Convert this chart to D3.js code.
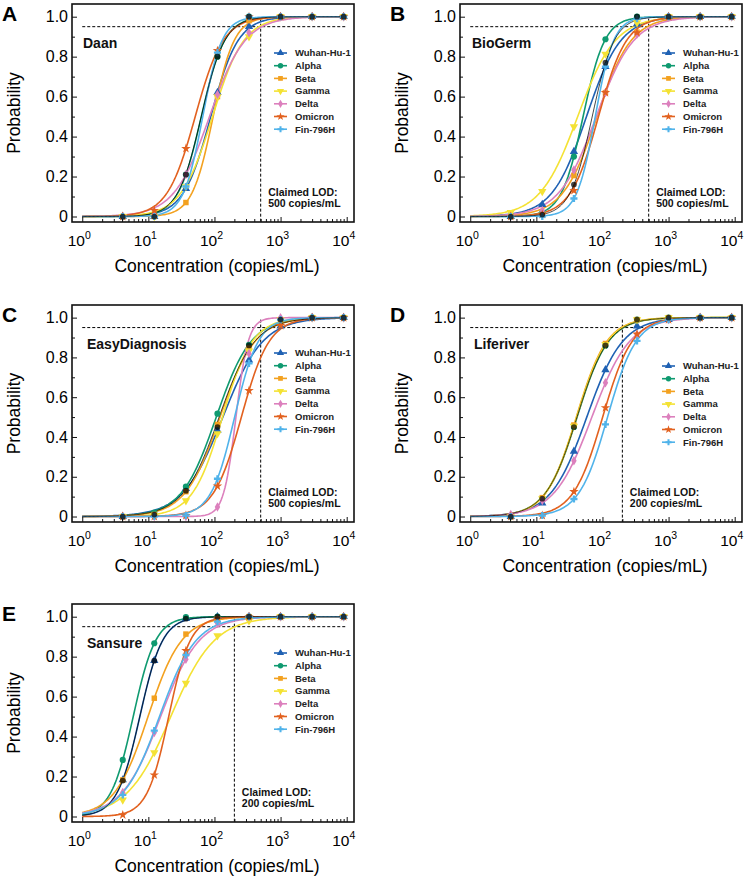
<!DOCTYPE html>
<html><head><meta charset="utf-8">
<script src="https://cdn.jsdelivr.net/npm/d3@7"></script>
<style>body{margin:0;background:#fff} svg{display:block}</style>
</head><body><svg id="c" width="750" height="877"></svg>
<script>
// ---------------- DATA ----------------
const concentrations = [4.1, 12.3, 37, 111, 333, 1000, 3000, 9000];
const variants = ["Wuhan-Hu-1", "Alpha", "Beta", "Gamma", "Delta", "Omicron", "Fin-796H", "Pooled"];
const panelLetters = ["A", "B", "C", "D", "E"];
const panelNames = ["Daan", "BioGerm", "EasyDiagnosis", "Liferiver", "Sansure"];
const claimedLOD = [500, 500, 500, 200, 200];
const xTickExponents = [0, 1, 2, 3, 4];
const yTickValues = [0, 0.2, 0.4, 0.6, 0.8, 1.0];

// observed hit rates per variant (rows follow `variants`)
const daanValues = [
  [0, 0, 0.14, 0.62, 0.95, 1, 1, 1],
  [0, 0.01, 0.21, 0.80, 1, 1, 1, 1],
  [0, 0, 0.07, 0.60, 0.98, 1, 1, 1],
  [0, 0, 0.15, 0.60, 0.90, 1, 1, 1],
  [0, 0.01, 0.21, 0.61, 0.92, 1, 1, 1],
  [0, 0.03, 0.34, 0.83, 1, 1, 1, 1],
  [0, 0, 0.15, 0.82, 1, 1, 1, 1],
  [0, 0, 0.21, 0.80, 1, 1, 1, 1]
];
const bioGermValues = [
  [0, 0.06, 0.325, 0.75, 0.963, 1, 1, 1],
  [0, 0.02, 0.30, 0.887, 1, 1, 1, 1],
  [0, 0.01, 0.205, 0.62, 0.923, 1, 1, 1],
  [0.02, 0.125, 0.45, 0.813, 0.97, 1, 1, 1],
  [0, 0.03, 0.233, 0.62, 0.913, 1, 1, 1],
  [0, 0.01, 0.13, 0.62, 0.92, 1, 1, 1],
  [0, 0, 0.09, 0.75, 0.99, 1, 1, 1],
  [0, 0.01, 0.16, 0.77, 1, 1, 1, 1]
];
const easyDiagnosisValues = [
  [0, 0.01, 0.14, 0.433, 0.787, 0.958, 1, 1],
  [0, 0.02, 0.15, 0.517, 0.863, 0.99, 1, 1],
  [0, 0.01, 0.125, 0.463, 0.847, 0.99, 1, 1],
  [0, 0.005, 0.08, 0.417, 0.833, 0.99, 1, 1],
  [0, 0, 0, 0.048, 0.82, 1, 1, 1],
  [0, 0, 0.005, 0.153, 0.633, 0.96, 1, 1],
  [0, 0, 0.005, 0.19, 0.77, 0.99, 1, 1],
  [0, 0.01, 0.13, 0.45, 0.86, 0.99, 1, 1]
];
const liferiverValues = [
  [0, 0.067, 0.328, 0.738, 0.958, 0.99, 1, 1],
  [0, 0.092, 0.45, 0.858, 0.99, 1, 1, 1],
  [0, 0.095, 0.46, 0.87, 0.99, 1, 1, 1],
  [0, 0.09, 0.455, 0.865, 0.99, 1, 1, 1],
  [0.01, 0.08, 0.28, 0.672, 0.915, 0.99, 1, 1],
  [0, 0.005, 0.125, 0.547, 0.917, 0.99, 1, 1],
  [0, 0.005, 0.088, 0.463, 0.883, 0.99, 1, 1],
  [0, 0.09, 0.45, 0.86, 0.99, 1, 1, 1]
];
const sansureValues = [
  [0.183, 0.78, 0.99, 1, 1, 1, 1, 1],
  [0.283, 0.867, 0.998, 1, 1, 1, 1, 1],
  [0.183, 0.592, 0.913, 0.99, 1, 1, 1, 1],
  [0.083, 0.32, 0.667, 0.905, 0.98, 1, 1, 1],
  [0.12, 0.42, 0.787, 0.967, 1, 1, 1, 1],
  [0.008, 0.208, 0.83, 0.99, 1, 1, 1, 1],
  [0.108, 0.43, 0.808, 0.975, 1, 1, 1, 1],
  [0.18, 0.78, 0.99, 1, 1, 1, 1, 1]
];

// fitted dose-response curves: [log10 EC50, slope] per variant
const daanFit = [[1.944, 4.83], [1.801, 5.68], [1.980, 6.27], [1.97, 4.2], [1.925, 3.71], [1.709, 4.71], [1.823, 6.82], [1.80, 5.6]];
const bioGermFit = [[1.758, 3.84], [1.707, 6.09], [1.918, 3.87], [1.625, 3.5], [1.906, 3.52], [1.94, 4.7], [1.891, 7.15], [1.845, 6.0]];
const easyDiagnosisFit = [[2.127, 3.30], [2.027, 3.78], [2.084, 3.77], [2.121, 4.41], [2.325, 10.7], [2.407, 4.73], [2.305, 5.57], [2.07, 3.7]];
const liferiverFit = [[1.763, 3.675], [1.616, 4.19], [1.605, 4.32], [1.61, 4.25], [1.84, 3.49], [2.003, 4.47], [2.077, 4.6], [1.615, 4.2]];
const sansureFit = [[0.871, 5.79], [0.771, 5.87], [0.995, 3.92], [1.339, 3.03], [1.185, 3.41], [1.308, 6.12], [1.168, 3.6], [0.871, 5.79]];

const panelValues = [daanValues, bioGermValues, easyDiagnosisValues, liferiverValues, sansureValues];
const panelFits = [daanFit, bioGermFit, easyDiagnosisFit, liferiverFit, sansureFit];

// ---------------- STYLE ----------------
const colors = ["#1f61b3", "#0f9a70", "#f3a11f", "#f4e234", "#dc80bd", "#e2611f", "#50b3ea", "#000000"];
const symbols = [d3.symbolTriangle, d3.symbolCircle, d3.symbolSquare, d3.symbolTriangle, d3.symbolDiamond, d3.symbolStar, d3.symbolCross, d3.symbolCircle];
const symRotate = [0, 0, 0, 180, 0, 0, 0, 0];
const symSize = [30, 30, 30, 30, 26, 28, 28, 26];
const FONT = "Arial, 'Liberation Sans', Helvetica, sans-serif";

const frames = [
  {l: 72, t: 4, r: 354, b: 222, nameDx: 11, legDy: 49},
  {l: 460, t: 4, r: 742, b: 222, nameDx: 12, legDy: 49},
  {l: 72, t: 305, r: 354, b: 522, nameDx: 15, legDy: 48},
  {l: 460, t: 305, r: 742, b: 522, nameDx: 14, legDy: 61},
  {l: 72, t: 604, r: 354, b: 822, nameDx: 15, legDy: 49}
];

const svg = d3.select("#c");

panelNames.forEach((name, pi) => {
  const f = frames[pi];
  const x = d3.scaleLog().domain([0.70, 12900]).range([f.l, f.r]);
  const y = d3.scaleLinear().domain([-0.0275, 1.0635]).range([f.b, f.t]);
  const g = svg.append("g");
  const values = panelValues[pi];
  const fits = panelFits[pi];

  // reference lines
  g.append("line").attr("x1", x(1)).attr("x2", x(10000)).attr("y1", y(0.95)).attr("y2", y(0.95))
    .attr("stroke", "#000").attr("stroke-width", 1).attr("stroke-dasharray", "3,2");
  g.append("line").attr("x1", x(claimedLOD[pi])).attr("x2", x(claimedLOD[pi])).attr("y1", y(0.99)).attr("y2", f.b)
    .attr("stroke", "#000").attr("stroke-width", 1).attr("stroke-dasharray", "3,2");

  // fitted curves
  const sampleLogs = d3.range(0, 4.0001, 0.02);
  const line = d3.line().x(d => x(Math.pow(10, d[0]))).y(d => y(d[1])).curve(d3.curveLinear);
  fits.forEach((fit, si) => {
    const pts = sampleLogs.map(L => [L, 1 / (1 + Math.exp(-fit[1] * (L - fit[0])))]);
    g.append("path").attr("d", line(pts)).attr("fill", "none")
      .attr("stroke", colors[si]).attr("stroke-width", si === 7 ? 1.0 : 1.6)
      .attr("stroke-opacity", si === 7 ? 0.72 : 1);
  });

  // markers
  values.forEach((vals, si) => {
    const sym = d3.symbol().type(symbols[si]).size(symSize[si]);
    g.selectAll(null).data(vals.map((v, k) => [concentrations[k], v])).join("path")
      .attr("d", sym)
      .attr("transform", d => `translate(${x(d[0])},${y(d[1])}) rotate(${symRotate[si]})`)
      .attr("fill", colors[si])
      .attr("fill-opacity", si === 7 ? 0.72 : 1);
  });

  // frame
  g.append("rect").attr("x", f.l).attr("y", f.t).attr("width", f.r - f.l).attr("height", f.b - f.t)
    .attr("fill", "none").attr("stroke", "#111").attr("stroke-width", 1.6);

  // x axis ticks (inward)
  const xMajor = xTickExponents.map(e => Math.pow(10, e));
  const xMinor = [];
  for (let e = 0; e < 4; e++) for (let m = 2; m <= 9; m++) xMinor.push(m * Math.pow(10, e));
  const axX = g.append("g").attr("transform", `translate(0,${f.b})`)
    .call(d3.axisBottom(x).tickValues(xMajor).tickSize(-5).tickFormat(""));
  axX.append("g").call(d3.axisBottom(x).tickValues(xMinor).tickSize(-3).tickFormat(""));
  axX.selectAll(".domain").remove();
  axX.selectAll("line").attr("stroke", "#111").attr("stroke-width", 1);

  xTickExponents.forEach(e => {
    const t = g.append("text").attr("x", x(Math.pow(10, e)) - 3).attr("y", f.b + 24)
      .attr("text-anchor", "middle").attr("font-family", FONT).attr("font-size", 15.5).attr("fill", "#000");
    t.append("tspan").text("10");
    t.append("tspan").text(e).attr("font-size", 10.5).attr("dy", -7);
  });

  // y axis ticks (inward)
  const axY = g.append("g").attr("transform", `translate(${f.l},0)`)
    .call(d3.axisLeft(y).tickValues(yTickValues).tickSize(-5).tickFormat(""));
  axY.append("g").call(d3.axisLeft(y).tickValues([0.1, 0.3, 0.5, 0.7, 0.9]).tickSize(-3).tickFormat(""));
  axY.selectAll(".domain").remove();
  axY.selectAll("line").attr("stroke", "#111").attr("stroke-width", 1);
  yTickValues.forEach(v => {
    g.append("text").attr("x", f.l - 4).attr("y", y(v)).attr("dy", "0.35em")
      .attr("text-anchor", "end").attr("font-family", FONT).attr("font-size", 16).attr("fill", "#000")
      .text(v === 0 ? "0" : d3.format(".1f")(v));
  });

  // axis titles
  g.append("text").attr("x", (f.l + f.r) / 2 + 4).attr("y", f.b + 50)
    .attr("text-anchor", "middle").attr("font-family", FONT).attr("font-size", 17.5).attr("fill", "#000")
    .text("Concentration (copies/mL)");
  g.append("text").attr("transform", `translate(${f.l - 52},${(f.t + f.b) / 2}) rotate(-90)`)
    .attr("text-anchor", "middle").attr("font-family", FONT).attr("font-size", 17.5).attr("fill", "#000")
    .text("Probability");

  // panel letter
  g.append("text").attr("x", f.l - 70).attr("y", f.t + 17).attr("font-family", FONT)
    .attr("font-weight", "bold").attr("font-size", 21).attr("fill", "#000").text(panelLetters[pi]);

  // panel name
  g.append("text").attr("x", f.l + f.nameDx).attr("y", f.t + 44).attr("font-family", FONT)
    .attr("font-weight", "bold").attr("font-size", 14).attr("fill", "#111").text(name);

  // claimed LOD text
  const lt = g.append("text").attr("x", x(claimedLOD[pi]) + 7.5).attr("y", f.b - 26.5)
    .attr("font-family", FONT).attr("font-weight", "bold").attr("font-size", 10.5).attr("fill", "#111");
  lt.append("tspan").text("Claimed LOD:");
  lt.append("tspan").attr("x", x(claimedLOD[pi]) + 7.5).attr("dy", 11.5).text(`${claimedLOD[pi]} copies/mL`);

  // legend
  const lx = f.r - 80, ly = f.t + f.legDy;
  variants.slice(0, 7).forEach((v, si) => {
    const yy = ly + si * 12.7;
    g.append("line").attr("x1", lx).attr("x2", lx + 13).attr("y1", yy).attr("y2", yy)
      .attr("stroke", colors[si]).attr("stroke-width", 1.6);
    g.append("path").attr("d", d3.symbol().type(symbols[si]).size(symSize[si] * 0.75)())
      .attr("transform", `translate(${lx + 6.5},${yy}) rotate(${symRotate[si]})`).attr("fill", colors[si]);
    g.append("text").attr("x", lx + 21).attr("y", yy).attr("dy", "0.35em")
      .attr("font-family", FONT).attr("font-weight", "bold").attr("font-size", 9.5).attr("fill", "#222").text(v);
  });
});
</script></body></html>
